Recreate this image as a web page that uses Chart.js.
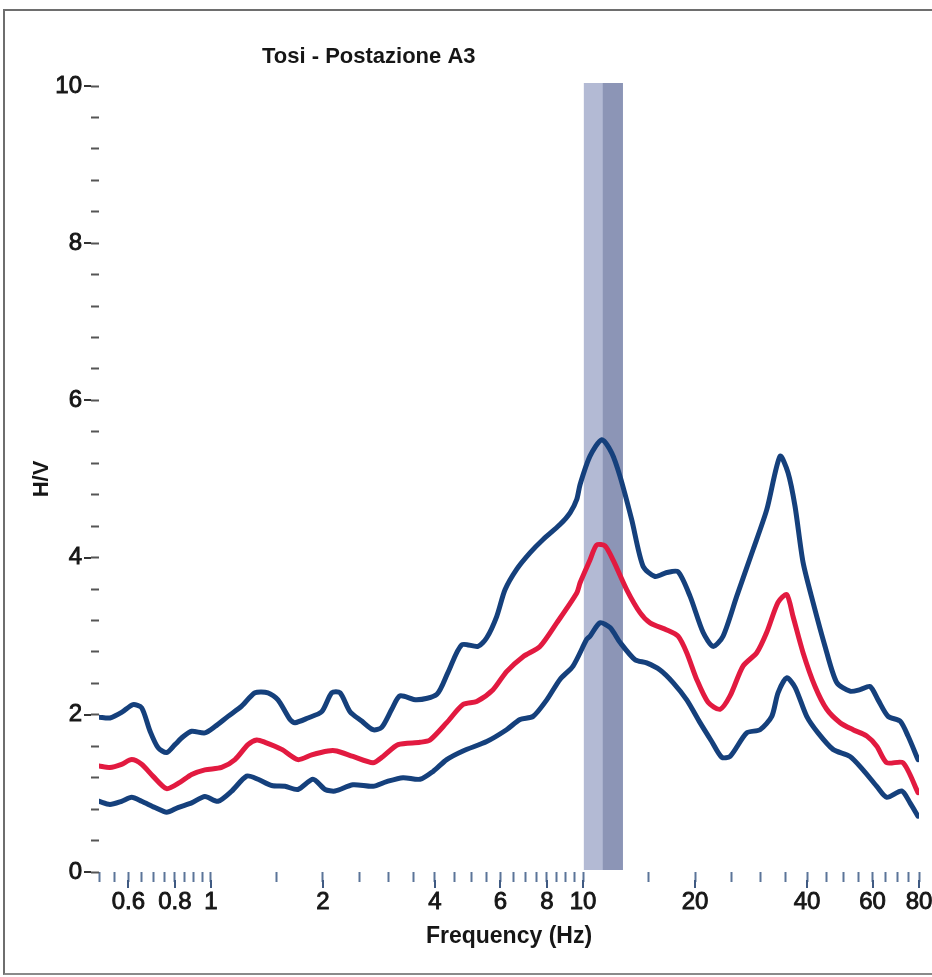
<!DOCTYPE html>
<html>
<head>
<meta charset="utf-8">
<script src="https://cdn.jsdelivr.net/npm/chart.js@4.4.1/dist/chart.umd.min.js"></script>
<style>
  html, body { margin: 0; padding: 0; background: #fff; }
  #wrap { position: relative; width: 932px; height: 977px; overflow: hidden; }
  #frame { position: absolute; left: 3px; top: 9px; width: 940px; height: 966px;
           border-left: 2px solid #6e6e6e; border-top: 2px solid #6e6e6e; border-bottom: 2px solid #8a8a8a;
           box-sizing: border-box; pointer-events: none; }
  canvas { position: absolute; left: 0; top: 0; }
</style>
</head>
<body>
<div id="wrap">
  <canvas id="hv" width="932" height="977"></canvas>
  <div id="frame"></div>
</div>
<script>
// H/V spectral ratio, station A3
const chartTitle = 'Tosi - Postazione A3';

// mean + standard deviation
const freqUpper = [0.5, 0.535, 0.575, 0.617, 0.651, 0.686, 0.721, 0.76, 0.8, 0.841, 0.887, 0.963,
  1.025, 1.111, 1.209, 1.313, 1.423, 1.514, 1.631, 1.682, 1.823, 1.985, 2.112, 2.223, 2.364, 2.542,
  2.726, 2.876, 3.061, 3.221, 3.573, 4.045, 4.336, 4.72, 5.22, 5.51, 5.86, 6.17, 6.63, 7.2, 7.81,
  8.67, 9.23, 9.62, 9.82, 10.44, 11.23, 11.95, 12.58, 13.52, 14.5, 15.62, 16.79, 18.01, 19.39,
  21.02, 22.37, 23.79, 25.9, 28.64, 31.18, 33.85, 35.57, 37.15, 39.03, 41.52, 44.73, 48.08, 52.2,
  55.54, 59.09, 62.09, 66.06, 71.14, 74.75, 79.5];
const hvUpper = [1.97, 1.96, 2.03, 2.13, 2.09, 1.79, 1.58, 1.52, 1.62, 1.72, 1.79, 1.77,
  1.85, 1.98, 2.11, 2.28, 2.28, 2.19, 1.94, 1.90, 1.96, 2.04, 2.28, 2.28, 2.04, 1.92,
  1.81, 1.84, 2.07, 2.24, 2.19, 2.26, 2.54, 2.89, 2.87, 2.98, 3.25, 3.59, 3.85, 4.06, 4.23,
  4.42, 4.57, 4.74, 4.93, 5.29, 5.50, 5.33, 5.03, 4.48, 3.89, 3.76, 3.81, 3.82, 3.51,
  3.05, 2.87, 3.00, 3.51, 4.10, 4.61, 5.29, 5.08, 4.65, 3.94, 3.43, 2.87, 2.41, 2.30,
  2.32, 2.36, 2.19, 1.98, 1.92, 1.73, 1.43];

// mean H/V curve
const freqMean = [0.5, 0.535, 0.575, 0.612, 0.651, 0.698, 0.76, 0.825, 0.887, 0.963, 1.068, 1.16,
  1.257, 1.327, 1.397, 1.549, 1.713, 1.865, 2.064, 2.177, 2.408, 2.726, 2.9, 3.183, 3.646, 3.879,
  4.301, 4.758, 5.179, 5.73, 6.23, 6.9, 7.66, 8.5, 9.62, 9.82, 10.44, 10.88, 11.46, 12.04, 13.11,
  14.23, 15.14, 16.79, 18.01, 19.0, 20.21, 21.68, 23.35, 24.84, 26.92, 29.31, 31.18, 33.43, 35.28,
  36.69, 39.03, 42.04, 45.2, 49.09, 53.18, 57.89, 61.6, 65.54, 72.47, 79.5];
const hvMean = [1.35, 1.33, 1.37, 1.43, 1.37, 1.22, 1.06, 1.14, 1.24, 1.30, 1.33, 1.43,
  1.62, 1.68, 1.65, 1.56, 1.43, 1.49, 1.54, 1.54, 1.47, 1.39, 1.47, 1.62, 1.65, 1.68,
  1.90, 2.13, 2.17, 2.32, 2.55, 2.74, 2.87, 3.17, 3.55, 3.68, 3.97, 4.16, 4.15, 3.97, 3.59,
  3.30, 3.17, 3.08, 3.00, 2.79, 2.45, 2.16, 2.07, 2.24, 2.62, 2.79, 3.05, 3.43, 3.53,
  3.25, 2.79, 2.36, 2.07, 1.90, 1.81, 1.73, 1.60, 1.39, 1.39, 1.01];

// mean - standard deviation
const freqLower = [0.5, 0.535, 0.575, 0.612, 0.651, 0.707, 0.76, 0.815, 0.887, 0.963, 1.044, 1.137,
  1.247, 1.338, 1.456, 1.581, 1.713, 1.88, 2.026, 2.154, 2.408, 2.726, 2.967, 3.282, 3.646, 3.953,
  4.301, 4.758, 5.51, 6.23, 6.77, 7.34, 7.99, 8.67, 9.4, 10.23, 10.44, 11.1, 11.82, 12.58, 13.8,
  14.83, 16.11, 17.46, 19.0, 20.63, 22.18, 23.6, 24.84, 27.54, 29.91, 32.16, 33.43, 35.28, 37.15,
  39.93, 42.82, 46.99, 52.2, 56.58, 61.6, 65.54, 71.88, 75.68, 79.5];
const hvLower = [0.90, 0.86, 0.90, 0.95, 0.90, 0.82, 0.76, 0.82, 0.88, 0.96, 0.90, 1.03,
  1.22, 1.18, 1.10, 1.09, 1.05, 1.18, 1.05, 1.03, 1.11, 1.09, 1.15, 1.20, 1.18, 1.28,
  1.43, 1.54, 1.66, 1.81, 1.94, 1.98, 2.19, 2.45, 2.62, 2.96, 3.00, 3.17, 3.11, 2.92, 2.70,
  2.66, 2.57, 2.41, 2.19, 1.90, 1.66, 1.46, 1.47, 1.77, 1.81, 1.98, 2.28, 2.47, 2.35,
  1.98, 1.77, 1.56, 1.47, 1.30, 1.09, 0.95, 1.03, 0.88, 0.71];

// peak frequency band: [lower bound, peak, upper bound] in Hz
const peakBand = [10.05, 11.3, 12.8];

// axis ticks
const xTickValues = [0.5, 0.55, 0.6, 0.65, 0.7, 0.75, 0.8, 0.85, 0.9, 0.95, 1,
  1.5, 2, 2.5, 3, 3.5, 4, 4.5, 5, 5.5, 6, 6.5, 7, 7.5, 8, 8.5, 9, 9.5, 10,
  15, 20, 25, 30, 35, 40, 45, 50, 55, 60, 65, 70, 75, 80];
const xTickLabels = [0.6, 0.8, 1, 2, 4, 6, 8, 10, 20, 40, 60, 80];
const yTickValues = [0, 0.4, 0.8, 1.2, 1.6, 2, 2.4, 2.8, 3.2, 3.6, 4, 4.4, 4.8, 5.2, 5.6,
  6, 6.4, 6.8, 7.2, 7.6, 8, 8.4, 8.8, 9.2, 9.6, 10];
const yTickLabels = [0, 2, 4, 6, 8, 10];

const FONT = 'Liberation Sans, Arial, sans-serif';
const TEXT = '#161616';
const NAVY = '#15407c';
const RED = '#e21a40';

const toPoints = (fs, vs) => fs.map((f, i) => ({ x: f, y: vs[i] }));

// shaded peak band behind the curves
const bandPlugin = {
  id: 'peakBand',
  beforeDatasetsDraw(chart) {
    const { ctx, chartArea, scales } = chart;
    const x0 = scales.x.getPixelForValue(peakBand[0]);
    const x1 = scales.x.getPixelForValue(peakBand[1]);
    const x2 = scales.x.getPixelForValue(peakBand[2]);
    const top = chartArea.top - 3, bottom = chartArea.bottom - 2;
    ctx.save();
    ctx.fillStyle = '#b3bad4';
    ctx.fillRect(x0, top, x2 - x0, bottom - top);
    ctx.fillStyle = '#8c95b6';
    ctx.fillRect(x1, top, x2 - x1, bottom - top);
    ctx.restore();
  }
};

// longer tick marks at labelled values, plus the chart heading
const decorPlugin = {
  id: 'decor',
  afterDraw(chart) {
    const { ctx, chartArea, scales } = chart;
    ctx.save();
    ctx.lineWidth = 2;
    ctx.strokeStyle = '#3f5a82';
    xTickLabels.forEach(v => {
      const px = Math.round(scales.x.getPixelForValue(v));
      ctx.beginPath();
      ctx.moveTo(px, chartArea.bottom + 8);
      ctx.lineTo(px, chartArea.bottom + 16);
      ctx.stroke();
    });
    ctx.strokeStyle = '#333';
    yTickLabels.forEach(v => {
      const py = Math.round(scales.y.getPixelForValue(v));
      ctx.beginPath();
      ctx.moveTo(chartArea.left - 15, py);
      ctx.lineTo(chartArea.left - 8, py);
      ctx.stroke();
    });
    ctx.fillStyle = TEXT;
    ctx.font = 'bold 22px ' + FONT;
    ctx.textAlign = 'left';
    ctx.textBaseline = 'middle';
    ctx.fillText(chartTitle, 262, 57);
    ctx.restore();
  }
};

const lineStyle = {
  pointRadius: 0,
  borderWidth: 5,
  tension: 0.25,
  borderJoinStyle: 'round',
  borderCapStyle: 'round',
  fill: false
};

new Chart(document.getElementById('hv'), {
  type: 'line',
  data: {
    datasets: [
      { label: 'H/V + σ', data: toPoints(freqUpper, hvUpper), borderColor: NAVY, ...lineStyle },
      { label: 'H/V - σ', data: toPoints(freqLower, hvLower), borderColor: NAVY, ...lineStyle },
      { label: 'H/V', data: toPoints(freqMean, hvMean), borderColor: RED, ...lineStyle }
    ]
  },
  options: {
    responsive: false,
    animation: false,
    devicePixelRatio: 1,
    layout: { padding: { top: 86, right: 0, bottom: 0, left: 0 } },
    plugins: { legend: { display: false }, tooltip: { enabled: false }, title: { display: false } },
    scales: {
      x: {
        type: 'logarithmic',
        min: 0.5,
        max: 80,
        afterBuildTicks: s => { s.ticks = xTickValues.map(v => ({ value: v })); },
        afterFit: s => { s.height = 105; s.paddingLeft = 0; s.paddingRight = 13; },
        border: { display: false },
        grid: { display: true, drawOnChartArea: false, drawTicks: true, tickLength: 10,
                tickColor: '#5b7499', tickWidth: 2 },
        ticks: {
          autoSkip: false, maxRotation: 0, minRotation: 0, padding: 6,
          color: TEXT, font: { family: FONT, size: 24 },
          textStrokeColor: TEXT, textStrokeWidth: 0.9,
          callback: v => xTickLabels.includes(v) ? String(v) : ''
        },
        title: { display: true, text: 'Frequency (Hz)', color: TEXT,
                 font: { family: FONT, size: 23, weight: 'bold' }, padding: { top: 0, bottom: 27 } }
      },
      y: {
        min: 0,
        max: 10,
        afterBuildTicks: s => { s.ticks = yTickValues.map(v => ({ value: v })); },
        afterFit: s => { s.width = 99; },
        border: { display: false },
        grid: { display: true, drawOnChartArea: false, drawTicks: true, tickLength: 8,
                tickColor: '#555', tickWidth: 2 },
        ticks: {
          autoSkip: false, padding: 9,
          color: TEXT, font: { family: FONT, size: 24 },
          textStrokeColor: TEXT, textStrokeWidth: 0.9,
          callback: v => yTickLabels.includes(v) ? String(v) : ''
        },
        title: { display: true, text: 'H/V', color: TEXT,
                 font: { family: FONT, size: 22, weight: 'bold' }, padding: { top: 29, bottom: 0 } }
      }
    }
  },
  plugins: [bandPlugin, decorPlugin]
});
</script>
</body>
</html>
